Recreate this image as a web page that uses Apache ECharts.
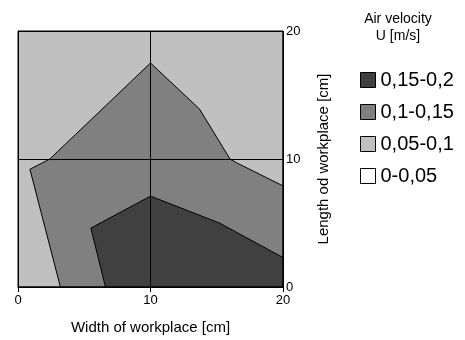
<!DOCTYPE html>
<html>
<head>
<meta charset="utf-8">
<script src="https://cdn.jsdelivr.net/npm/echarts@6/dist/echarts.min.js"></script>
<style>html,body{margin:0;padding:0;background:#fff}#c{width:465px;height:340px}</style>
</head>
<body>
<div id="c"></div>
<script>
// Legend categories
var categories = ['0,15-0,2', '0,1-0,15', '0,05-0,1', '0-0,05'];
var colors = ['#404040', '#808080', '#c0c0c0', '#ffffff'];
// Contour regions (x = width cm, y = length cm)
var zoneLight = [[0, 0], [20, 0], [20, 20], [0, 20]];
var zoneMedium = [[3.2, 0], [0.9, 9.2], [2.4, 10.0], [10.0, 17.5], [13.7, 13.9], [16.0, 10.0], [16.5, 9.7], [20, 7.9], [20, 0]];
var zoneDark = [[6.6, 0], [5.5, 4.6], [10.0, 7.1], [15.2, 5.0], [20, 2.3], [20, 0]];
var zoneWhite = [];
var xTicks = [0, 10, 20];
var yTicks = [0, 10, 20];

function polySeries(name, pts, color) {
  return {
    type: 'custom', name: name, data: pts, coordinateSystem: 'cartesian2d',
    itemStyle: { color: color, borderColor: '#000', borderWidth: 1 },
    clip: true, silent: true,
    renderItem: function (params, api) {
      if (params.dataIndex !== 0) return;
      var p = pts.map(function (d) { return api.coord(d); });
      return { type: 'polygon', shape: { points: p }, style: { fill: color, stroke: '#000', lineWidth: 1 } };
    }
  };
}

var chart = echarts.init(document.getElementById('c'));
chart.setOption({
  animation: false,
  grid: { left: 18, top: 31, width: 265, height: 257, show: true, borderColor: '#000', borderWidth: 1, backgroundColor: 'transparent', z: 10 },
  xAxis: {
    type: 'value', min: 0, max: 20, interval: 10,
    name: 'Width of workplace [cm]', nameLocation: 'middle', nameGap: 33,
    nameTextStyle: { fontFamily: 'Liberation Sans', fontSize: 15, color: '#000' },
    axisLine: { lineStyle: { color: '#000', width: 1 } },
    axisTick: { length: 5, lineStyle: { color: '#000' } },
    axisLabel: { fontFamily: 'Liberation Sans', fontSize: 13, color: '#000', margin: 7 },
    splitLine: { show: true, lineStyle: { color: '#000', width: 1 } },
    z: 10
  },
  yAxis: {
    type: 'value', min: 0, max: 20, interval: 10, position: 'right',
    name: 'Length od workplace [cm]', nameLocation: 'middle', nameGap: 33, nameRotate: 90,
    nameTextStyle: { fontFamily: 'Liberation Sans', fontSize: 15, color: '#000' },
    axisLine: { lineStyle: { color: '#000', width: 1 } },
    axisTick: { length: 5, lineStyle: { color: '#000' } },
    axisLabel: { fontFamily: 'Liberation Sans', fontSize: 13, color: '#000', margin: 3 },
    splitLine: { show: true, lineStyle: { color: '#000', width: 1 } },
    z: 10
  },
  graphic: [
    { type: 'text', x: 398, y: 12, style: { text: 'Air velocity', textAlign: 'center', fontFamily: 'Liberation Sans', fontSize: 14, fill: '#000' } },
    { type: 'text', x: 398, y: 29, style: { text: 'U [m/s]', textAlign: 'center', fontFamily: 'Liberation Sans', fontSize: 14, fill: '#000' } }
  ],
  legend: {
    orient: 'vertical', left: 355, top: 65,
    itemWidth: 15, itemHeight: 15, itemGap: 12,
    icon: 'rect',
    textStyle: { fontFamily: 'Liberation Sans', fontSize: 20, color: '#000' },
    data: categories.map(function (c, i) {
      return { name: c, itemStyle: { color: colors[i], borderColor: '#000', borderWidth: 1 } };
    })
  },
  series: [
    polySeries(categories[2], zoneLight, colors[2]),
    polySeries(categories[1], zoneMedium, colors[1]),
    polySeries(categories[0], zoneDark, colors[0]),
    polySeries(categories[3], zoneWhite, colors[3])
  ]
});
</script>
</body>
</html>
